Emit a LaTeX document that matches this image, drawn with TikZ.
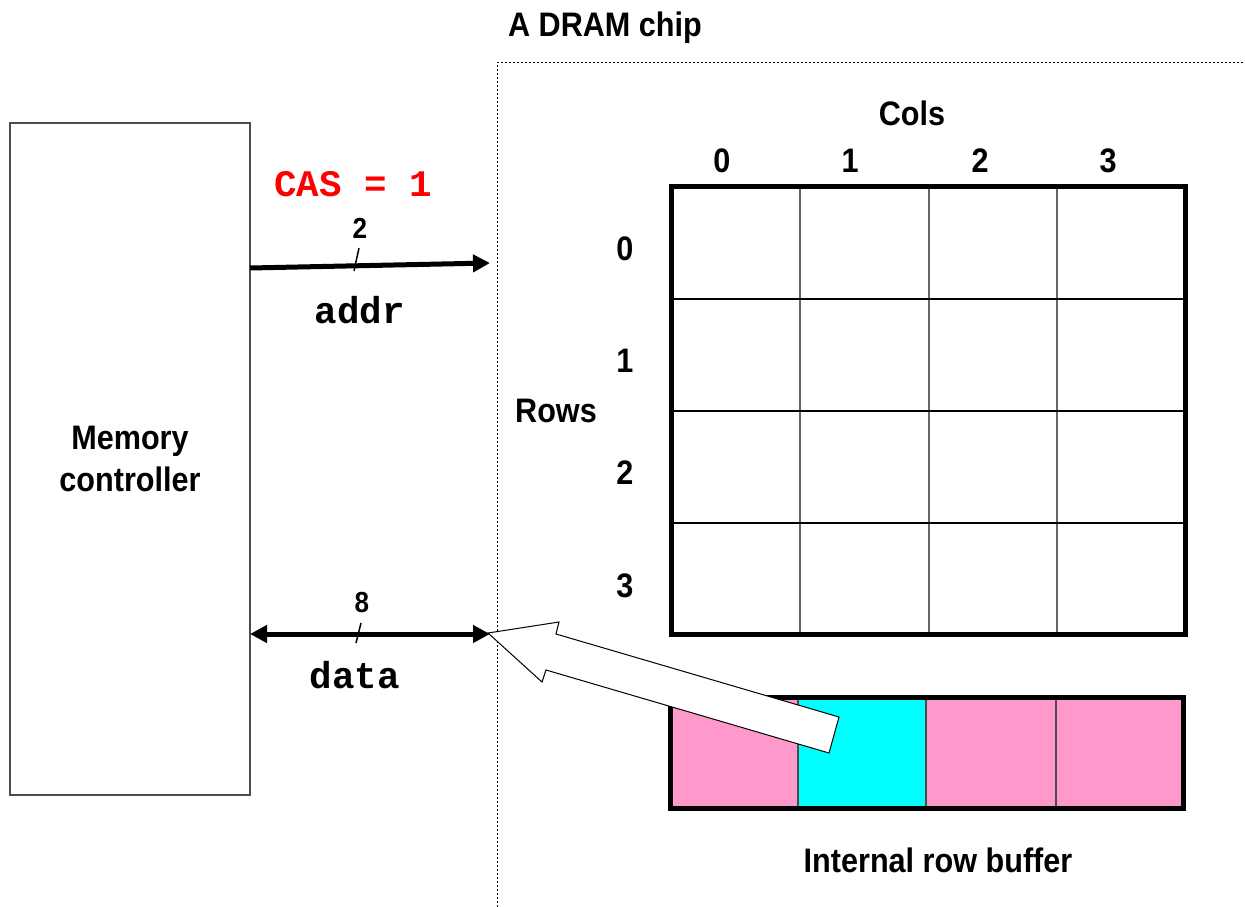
\documentclass[tikz,border=0pt]{standalone}
\usepackage{fontspec}
\setmainfont{Liberation Sans}
\setmonofont{Liberation Mono}
\newfontfamily\narrowsf[FakeStretch=0.9]{Liberation Sans}
\usetikzlibrary{arrows.meta}

\newcommand\lblfont{\narrowsf\bfseries\fontsize{34}{42}\selectfont}
\newcommand\tinyfont{\narrowsf\bfseries\fontsize{29}{32}\selectfont}
\newcommand\codefont{\ttfamily\bfseries\fontsize{37.5}{40}\selectfont}
\definecolor{bufpink}{RGB}{255,153,204}
\definecolor{bufcyan}{RGB}{0,255,255}

\tikzset{
  lbl/.style={inner sep=0pt,anchor=base,font=\lblfont},
  code/.style={inner sep=0pt,anchor=base,font=\codefont},
  bus/.style={line width=5pt,>={Triangle[length=17pt,width=17pt]}},
  slash/.style={line width=1.5pt},
  cellline/.style={line width=1.5pt}
}

\begin{document}
\begin{tikzpicture}[x=1pt,y=-1pt]
\useasboundingbox (0,0) rectangle (1245,907);
% memory controller
\node[draw=black!70,line width=1.5pt,minimum width=240pt,minimum height=672pt,inner sep=0pt,
  align=center,font=\lblfont] (mc) at (130,459) {Memory\\controller};
% chip boundary
\draw[line width=1pt,dash pattern=on 2pt off 2pt] (497,907) -- (497,63) -- (1245,63);
\node[lbl] (chip) at (605,37) {A DRAM chip};
% addr bus
\coordinate (addrA) at (250,268);
\coordinate (addrB) at (490,263);
\draw[bus,->] (addrA) -- (addrB);
\coordinate (s1a) at (354,271); \coordinate (s1b) at (359,248);
\draw[slash] (s1a) -- (s1b);
\node[inner sep=0pt,anchor=base,font=\tinyfont] (w2) at (360,238) {2};
\node[code,text=red] (cas) at (353,196) {CAS = 1};
\node[code] (addr) at (360,323) {addr};
% data bus
\coordinate (dataA) at (250,634);
\coordinate (dataB) at (490,634);
\draw[bus,<->] (dataA) -- (dataB);
\coordinate (s2a) at (356,643); \coordinate (s2b) at (361,623);
\draw[slash] (s2a) -- (s2b);
\node[inner sep=0pt,anchor=base,font=\tinyfont] (w8) at (362,612) {8};
\node[code] (data) at (355,688) {data};
% cell array
\node[minimum width=513pt,minimum height=447pt,inner sep=0pt] (arr) at (928.5,410.5) {};
\foreach \x in {800,929,1057}
  \draw[cellline,black!60] (\x,187) -- (\x,634);
\foreach \y in {299,411,523}
  \draw[cellline] (672,\y) -- (1185,\y);
\draw[line width=5pt] (arr.north west) rectangle (arr.south east);
\node[lbl] (cols) at (912,125) {Cols};
\foreach \i/\x in {0/722,1/850,2/980,3/1108}
  \node[lbl] (c\i) at (\x,172) {\i};
\foreach \i/\y in {0/260,1/372,2/484,3/597}
  \node[lbl] (r\i) at (625,\y) {\i};
\node[lbl] (rows) at (556,422) {Rows};
% row buffer
\foreach \i/\a/\b/\c in {0/670/798/bufpink,1/798/926/bufcyan,2/926/1056/bufpink,3/1056/1183/bufpink}
  \filldraw[fill=\c,draw=black!70,line width=1.2pt] (\a,697) rectangle (\b,808);
\draw[line width=5pt] (670,697) rectangle (1183,808);
\node[lbl] (buf) at (938,872) {Internal row buffer};
% hollow arrow from buffer cell to data bus
\draw[fill=white,line width=1pt,line join=miter]
  (488,633) -- (559,622) -- (556,634) -- (839,717) -- (829,753) -- (546,670) -- (542,682) -- cycle;
\end{tikzpicture}
\end{document}
